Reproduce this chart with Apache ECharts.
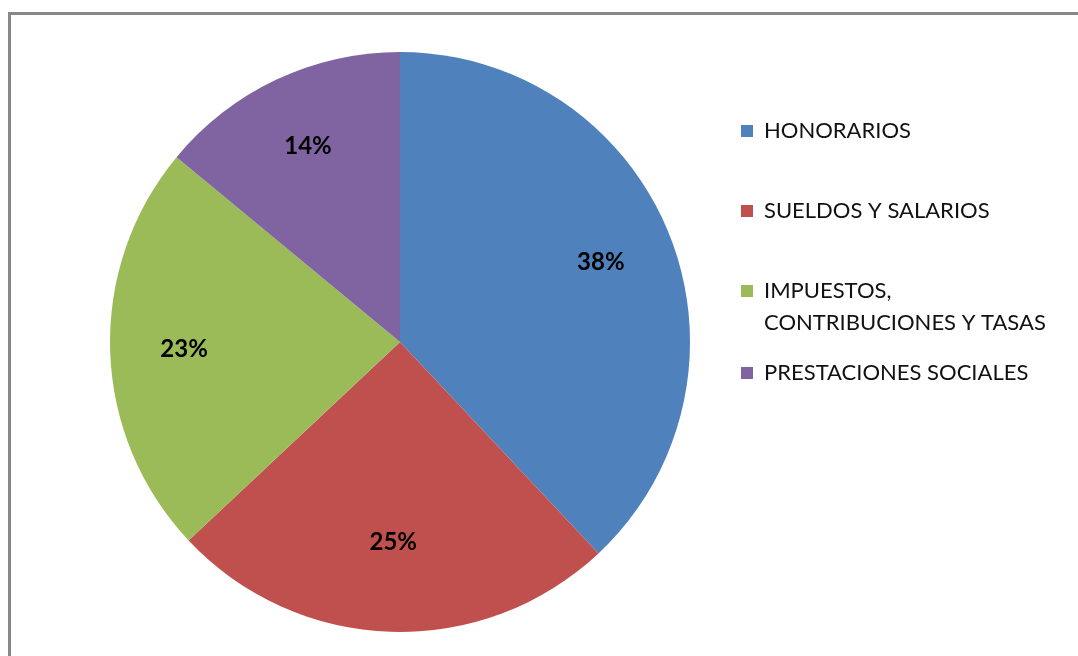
<!DOCTYPE html>
<html>
<head>
<meta charset="utf-8">
<script src="https://cdn.jsdelivr.net/npm/echarts@6/dist/echarts.min.js"></script>
<style>
  html, body { margin: 0; padding: 0; background: #fff; overflow: hidden; }
  #frame { position: absolute; left: 8px; top: 12px; width: 1200px; height: 800px;
           border-left: 3px solid #888; border-top: 3px solid #888; }
  #ChartPie { position: absolute; left: 0; top: 0; width: 1078px; height: 656px; }
</style>
</head>
<body>
<div id="frame"></div>
<div id="ChartPie"></div>
<script>
// categorias y porcentajes
const categorias = ['HONORARIOS', 'SUELDOS Y SALARIOS', 'IMPUESTOS, CONTRIBUCIONES Y TASAS', 'PRESTACIONES SOCIALES']
const valores = [38, 25, 23, 14]
const colores = ['#4F81BD', '#C0504D', '#9BBB59', '#8064A2']

const fuente = 'Lato'
let pieData = []
categorias.forEach((val, index) => {
  pieData.push({ name: val, value: valores[index], itemStyle: { color: colores[index] } })
})

// una leyenda por categoria, como en la hoja original
const legendTops = [119, 199, 243, 361]
let legends = []
categorias.forEach((val, index) => {
  let multi = index === 2
  legends.push({
    data: [val],
    left: 741,
    top: legendTops[index],
    padding: 0,
    orient: 'vertical',
    selectedMode: false,
    icon: 'rect',
    itemWidth: 12,
    itemHeight: 12,
    itemGap: 0,
    // linea vacia arriba para que el cuadrito quede junto a la primera linea
    formatter: multi ? '{e|}\n{a|IMPUESTOS,}\n{a|CONTRIBUCIONES Y TASAS}' : '{name}',
    textStyle: {
      fontFamily: fuente,
      fontSize: 22,
      color: '#111',
      lineHeight: multi ? 32 : 24,
      padding: [0, 0, 0, 6],
      rich: {
        e: { lineHeight: 32, fontSize: 22 },
        a: { lineHeight: 32, fontSize: 22, fontFamily: fuente, color: '#111' }
      }
    }
  })
})

let Chart = echarts.init(document.getElementById('ChartPie'))
Chart.setOption({
  animation: false,
  legend: legends,
  series: [
    {
      type: 'pie',
      center: [400, 342],
      radius: [0, 290],
      startAngle: 90,
      clockwise: true,
      silent: true,
      label: { show: false },
      labelLine: { show: false },
      data: pieData
    },
    {
      // capa transparente solo para las etiquetas
      type: 'pie',
      center: [400, 342],
      radius: [136, 290],
      startAngle: 90,
      clockwise: true,
      silent: true,
      legendHoverLink: false,
      itemStyle: { color: 'transparent' },
      label: {
        show: true,
        position: 'inside',
        formatter: '{c}%',
        fontFamily: fuente,
        fontWeight: 'bold',
        fontSize: 24,
        color: '#000'
      },
      labelLine: { show: false },
      labelLayout: (params) => params.dataIndex === 1 ? { dy: -16 } : {},
      data: categorias.map((val, index) => ({ name: val, value: valores[index] }))
    }
  ]
})
</script>
</body>
</html>
